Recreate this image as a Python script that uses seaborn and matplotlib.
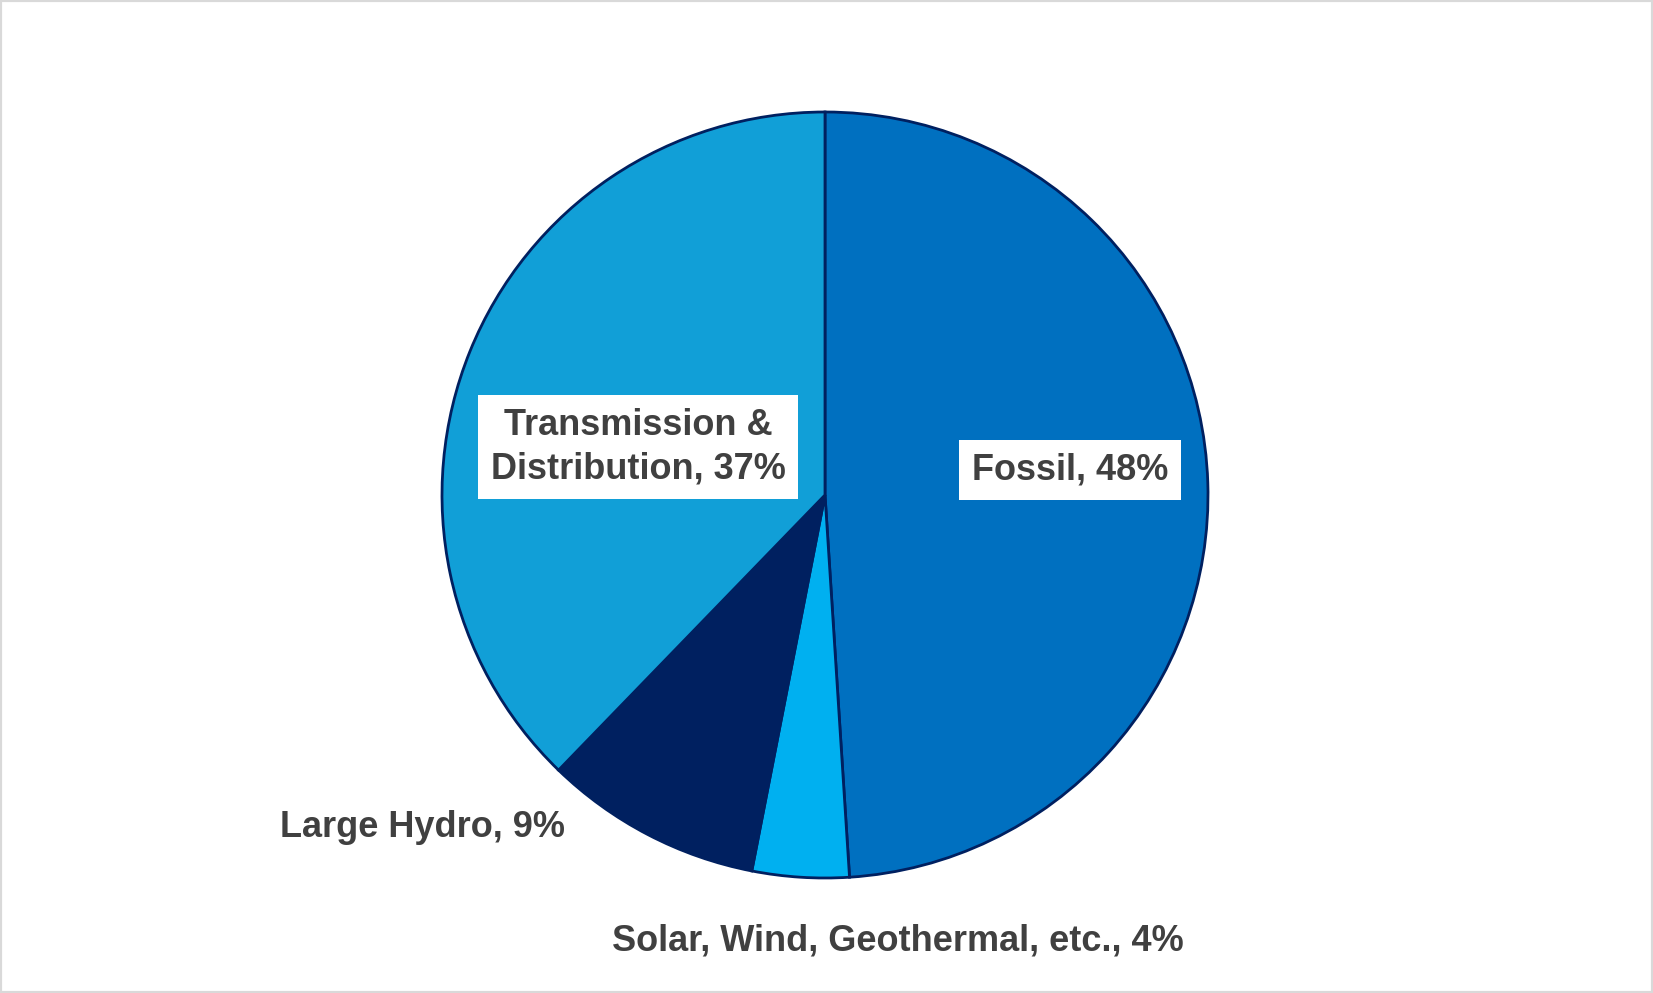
import matplotlib.pyplot as plt
import seaborn as sns
from matplotlib.patches import Rectangle

# data
categories = ["Fossil", "Solar, Wind, Geothermal, etc.", "Large Hydro", "Transmission &\nDistribution"]
shares = [48, 4, 9, 37]
colors = ["#0070C0", "#00B0F0", "#002060", "#119FD7"]

# label spots in pie units (radius 1)
label_x = [0.64, 0.19, -1.052, -0.488]
label_y = [0.066, -1.164, -0.867, 0.125]
label_box = [True, False, False, True]

sns.set_theme(style="white")
plt.rcParams['font.family'] = ['Liberation Sans', 'DejaVu Sans']

W, H = 1653, 993
cx, cy, r = 825, 495, 383

fig = plt.figure(figsize=(W / 100, H / 100), dpi=100)
ax = fig.add_axes([0, 0, 1, 1])

ax.pie(shares, colors=colors, startangle=90, counterclock=False,
       wedgeprops=dict(edgecolor="#002060", linewidth=2))

ax.set_xlim(-cx / r, (W - cx) / r)
ax.set_ylim(-(H - cy) / r, cy / r)
ax.set_aspect('auto')
ax.axis('off')

for name, val, x, y, boxed in zip(categories, shares, label_x, label_y, label_box):
    kw = {}
    if boxed:
        kw['bbox'] = dict(facecolor='white', edgecolor='none', pad=9)
    ax.text(x, y, f"{name}, {val}%", ha='center', va='center',
            fontsize=26, fontweight='bold', color='#404040',
            linespacing=1.3, **kw)

fig.patches.append(Rectangle((0, 0), 1, 1, transform=fig.transFigure,
                             fill=False, edgecolor='#D9D9D9', linewidth=3))

fig.savefig("out.png", dpi=100)
